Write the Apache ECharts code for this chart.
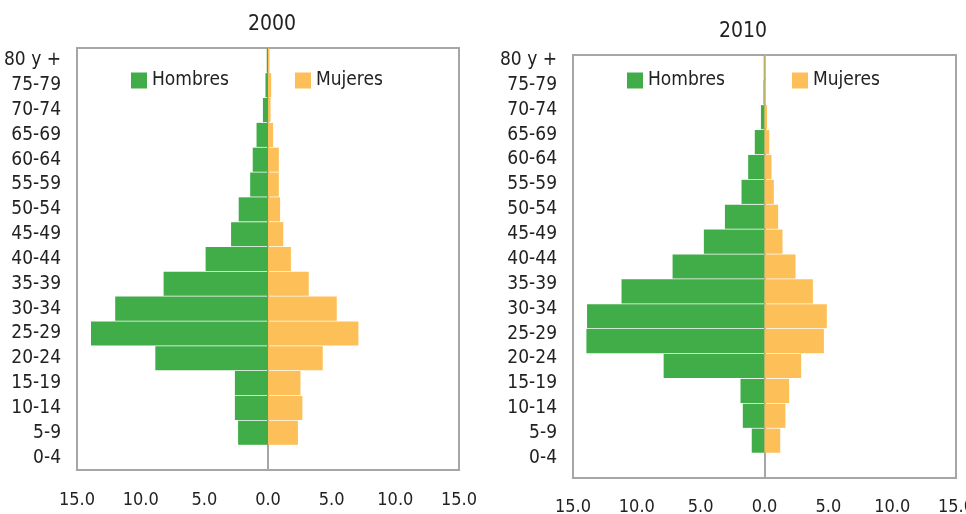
<!DOCTYPE html>
<html>
<head>
<meta charset="utf-8">
<script src="https://cdn.jsdelivr.net/npm/echarts@6/dist/echarts.min.js"></script>
<style>
html,body{margin:0;padding:0;background:#fff;}
#chart{width:966px;height:514px;}
</style>
</head>
<body>
<div id="chart"></div>
<script>
// Age groups, bottom to top
const categories = ['0-4','5-9','10-14','15-19','20-24','25-29','30-34','35-39','40-44','45-49','50-54','55-59','60-64','65-69','70-74','75-79','80 y +'];
// 2000 (%)
const hombres2000 = [0, 2.35, 2.6, 2.6, 8.85, 13.9, 12.0, 8.2, 4.9, 2.9, 2.3, 1.4, 1.2, 0.9, 0.4, 0.2, 0.1];
const mujeres2000 = [0, 2.35, 2.7, 2.55, 4.3, 7.1, 5.4, 3.2, 1.8, 1.2, 0.95, 0.85, 0.85, 0.4, 0.2, 0.25, 0.12];
// 2010 (%)
const hombres2010 = [0, 1.0, 1.7, 1.88, 7.9, 13.95, 13.9, 11.2, 7.2, 4.75, 3.1, 1.8, 1.28, 0.76, 0.28, 0.08, 0.06];
const mujeres2010 = [0, 1.23, 1.64, 1.93, 2.87, 4.65, 4.88, 3.79, 2.43, 1.41, 1.07, 0.73, 0.55, 0.37, 0.2, 0.12, 0.1];
const xTicks = [-15, -10, -5, 0, 5, 10, 15];
const titles = ['2000', '2010'];

const FONT = '"DejaVu Sans Condensed", "DejaVu Sans", sans-serif';
const FS = 19;
const GREEN = '#41ad49';
const ORANGE = '#fdbf57';
const GRAY = '#a6a6a6';
const TXT = '#222';

const chart = echarts.init(document.getElementById('chart'));

function xAxisCfg(idx, margin) {
  return {
    gridIndex: idx, type: 'value', min: xTicks[0], max: xTicks[xTicks.length - 1], interval: 5,
    axisLine: {show: false}, axisTick: {show: false}, splitLine: {show: false},
    axisLabel: {margin: margin, color: TXT, fontFamily: FONT, fontSize: 18,
      formatter: v => Math.abs(v).toFixed(1)}
  };
}
function yAxisCfg(idx, shifted) {
  const label = {interval: 0, margin: 16, color: TXT, fontFamily: FONT, fontSize: FS};
  if (shifted) { label.verticalAlign = 'bottom'; label.lineHeight = 15; }
  return {
    gridIndex: idx, type: 'category', data: categories,
    axisTick: {show: false},
    axisLine: {show: true, onZero: true, lineStyle: {color: GRAY, width: 2}},
    axisLabel: label
  };
}
function bar(name, idx, data, color, neg) {
  return {
    name: name, type: 'bar', xAxisIndex: idx, yAxisIndex: idx, stack: 's' + idx,
    barCategoryGap: '3%',
    data: data.map(v => neg ? -v : v),
    itemStyle: {color: color},
    emphasis: {disabled: true}
  };
}
function leg(name, left) {
  return {
    data: [name], left: left, top: 71, padding: 0, itemWidth: 16, itemHeight: 16, itemGap: 0,
    itemStyle: {borderWidth: 0},
    textStyle: {color: TXT, fontFamily: FONT, fontSize: FS},
    itemTextGap: 6, icon: 'rect'
  };
}

chart.setOption({
  animation: false,
  title: [
    {text: titles[0], left: 267, top: 9, textAlign: 'center',
      textStyle: {color: TXT, fontFamily: FONT, fontSize: 21, fontWeight: 'normal'}},
    {text: titles[1], left: 738, top: 16, textAlign: 'center',
      textStyle: {color: TXT, fontFamily: FONT, fontSize: 21, fontWeight: 'normal'}}
  ],
  legend: [leg('Hombres', 131), leg('Mujeres', 295), leg('Hombres', 627), leg('Mujeres', 792)],
  grid: [
    {left: 77, right: 507, top: 48, bottom: 44, show: true, borderColor: GRAY, borderWidth: 2,
      backgroundColor: 'transparent', outerBoundsMode: 'none', containLabel: false},
    {left: 573, right: 10, top: 55, bottom: 36, show: true, borderColor: GRAY, borderWidth: 2,
      backgroundColor: 'transparent', outerBoundsMode: 'none', containLabel: false}
  ],
  xAxis: [xAxisCfg(0, 21), xAxisCfg(1, 20)],
  yAxis: [yAxisCfg(0, false), yAxisCfg(1, true)],
  series: [
    bar('Hombres', 0, hombres2000, GREEN, true),
    bar('Mujeres', 0, mujeres2000, ORANGE, false),
    bar('Hombres', 1, hombres2010, GREEN, true),
    bar('Mujeres', 1, mujeres2010, ORANGE, false)
  ]
});
</script>
</body>
</html>
